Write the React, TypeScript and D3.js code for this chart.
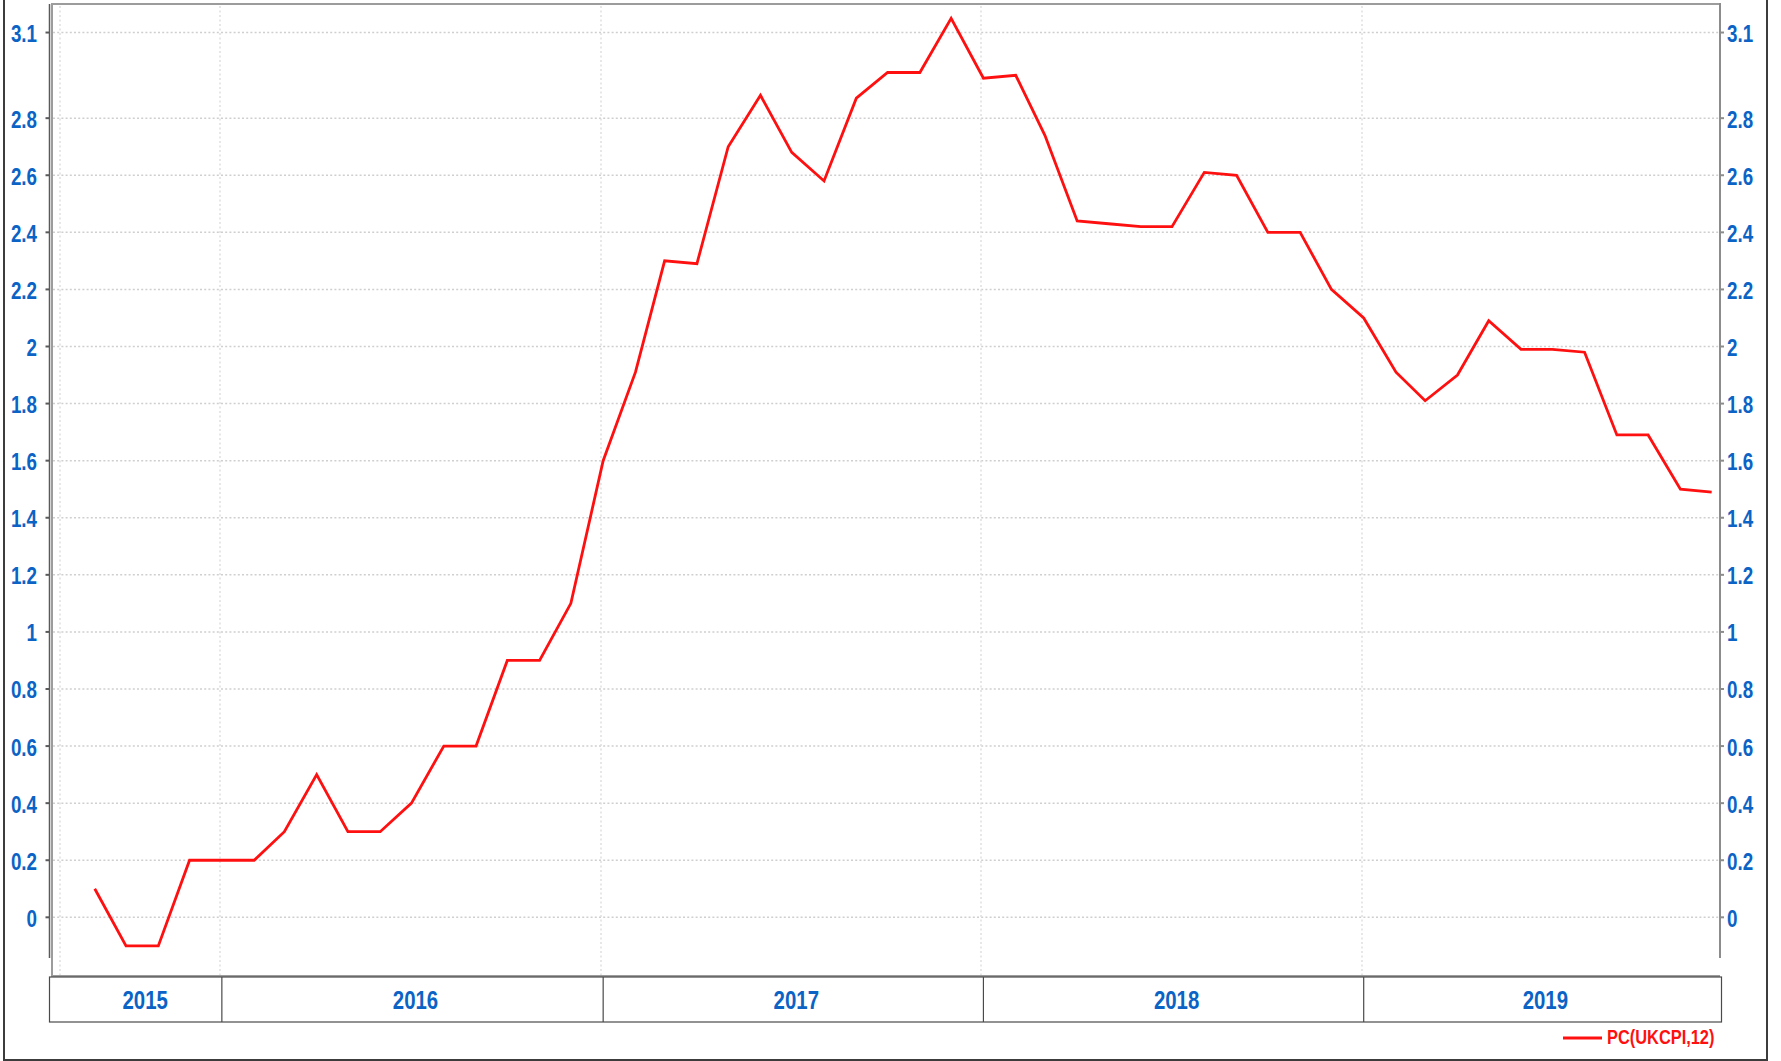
import React, { useEffect, useRef } from 'react';
import * as d3 from 'd3';

// monthly UK CPI yoy, Sep 2015 .. Dec 2019
const startMonth = new Date(2015, 8, 1);
const cpiValues = [
  0.1, -0.1, -0.1, 0.2,
  0.2, 0.2, 0.3, 0.5, 0.3, 0.3, 0.4, 0.6, 0.6, 0.9, 0.9, 1.1,
  1.6, 1.91, 2.3, 2.29, 2.7, 2.88, 2.68, 2.58, 2.87, 2.96, 2.96, 3.15,
  2.94, 2.95, 2.74, 2.44, 2.43, 2.42, 2.42, 2.61, 2.6, 2.4, 2.4, 2.2,
  2.1, 1.91, 1.81, 1.9, 2.09, 1.99, 1.99, 1.98, 1.69, 1.69, 1.5, 1.49
];
const yTicks = [0, 0.2, 0.4, 0.6, 0.8, 1, 1.2, 1.4, 1.6, 1.8, 2, 2.2, 2.4, 2.6, 2.8, 3.1];
const years = [2015, 2016, 2017, 2018, 2019];
const gridDates = [new Date(2015, 7, 1), new Date(2016, 0, 1), new Date(2017, 0, 1), new Date(2018, 0, 1), new Date(2019, 0, 1)];
const seriesName = 'PC(UKCPI,12)';

const BLUE = '#0b63c5';
const FONT = '"Liberation Sans", Arial, sans-serif';
const SQUEEZE = 0.8; // narrow look of the original font

const App = () => {
  const svgRef = useRef(null);

  useEffect(() => {
    const svg = d3.select(svgRef.current);
    svg.selectAll('*').remove();

    const left = 51, right = 1720, top = 4, bottom = 975;

    const x = d3.scaleTime()
      .domain([new Date(2015, 6, 21), new Date(2019, 11, 9)])
      .range([left, right]);
    const y = d3.scaleLinear()
      .domain([-0.2, 3.2])
      .range([974.4, 4]);

    const data = cpiValues.map((v, i) => ({
      date: new Date(startMonth.getFullYear(), startMonth.getMonth() + i, 1),
      value: v
    }));

    // outer frame
    svg.append('path')
      .attr('d', `M4,-2 V1060 H1767 V-2`)
      .attr('fill', 'none')
      .attr('stroke', '#3c3c3c')
      .attr('stroke-width', 2);

    // grid
    svg.append('g')
      .selectAll('line')
      .data(yTicks)
      .enter()
      .append('line')
      .attr('x1', left + 2)
      .attr('x2', right)
      .attr('y1', d => y(d))
      .attr('y2', d => y(d))
      .attr('stroke', '#cfcfcf')
      .attr('stroke-width', 1.5)
      .attr('stroke-dasharray', '2,2.2');

    svg.append('g')
      .selectAll('line')
      .data(gridDates)
      .enter()
      .append('line')
      .attr('x1', d => Math.round(x(d)) - 2)
      .attr('x2', d => Math.round(x(d)) - 2)
      .attr('y1', top + 2)
      .attr('y2', bottom)
      .attr('stroke', '#e0e0e0')
      .attr('stroke-width', 1.5)
      .attr('stroke-dasharray', '2,2.5');

    // plot frame
    svg.append('path')
      .attr('d', `M${right},${top} H${left + 1} V${bottom + 1} H${right}`)
      .attr('fill', 'none')
      .attr('stroke', '#9c9c9c')
      .attr('stroke-width', 2);

    // y axes
    svg.append('line')
      .attr('x1', 49.5).attr('x2', 49.5)
      .attr('y1', top).attr('y2', 958)
      .attr('stroke', '#5a5a5a')
      .attr('stroke-width', 1.5);
    svg.append('line')
      .attr('x1', right).attr('x2', right)
      .attr('y1', top - 1).attr('y2', 958)
      .attr('stroke', '#8c8c8c')
      .attr('stroke-width', 2);

    const fmt = (d) => String(+d.toFixed(1));
    const place = (px, py) => `translate(${px},${py}) scale(${SQUEEZE},1)`;

    const leftAxis = svg.append('g');
    leftAxis.selectAll('line')
      .data(yTicks)
      .enter()
      .append('line')
      .attr('x1', 45.5).attr('x2', 49.5)
      .attr('y1', d => y(d)).attr('y2', d => y(d))
      .attr('stroke', '#5a5a5a')
      .attr('stroke-width', 2);
    leftAxis.selectAll('text')
      .data(yTicks)
      .enter()
      .append('text')
      .attr('transform', d => place(37, y(d) + 9.5))
      .attr('text-anchor', 'end')
      .style('font-family', FONT)
      .style('font-weight', 'bold')
      .style('font-size', '23.5px')
      .style('fill', BLUE)
      .text(fmt);

    const rightAxis = svg.append('g');
    rightAxis.selectAll('line')
      .data(yTicks)
      .enter()
      .append('line')
      .attr('x1', right).attr('x2', right + 4)
      .attr('y1', d => y(d)).attr('y2', d => y(d))
      .attr('stroke', '#8c8c8c')
      .attr('stroke-width', 2);
    rightAxis.selectAll('text')
      .data(yTicks)
      .enter()
      .append('text')
      .attr('transform', d => place(1727, y(d) + 9.5))
      .attr('text-anchor', 'start')
      .style('font-family', FONT)
      .style('font-weight', 'bold')
      .style('font-size', '23.5px')
      .style('fill', BLUE)
      .text(fmt);

    // year boxes along the bottom
    const boxTop = 977, boxBottom = 1022;
    const xMin = x.range()[0] - 1, xMax = x.range()[1] + 1;
    const boxes = years.map(yr => {
      const x0 = Math.max(xMin, x(new Date(yr, 0, 1)));
      const x1 = Math.min(xMax, x(new Date(yr + 1, 0, 1)));
      const labelStart = Math.max(x(gridDates[0]), x(new Date(yr, 0, 1)));
      return { yr, x0, x1, cx: (labelStart + x1) / 2 + 3 };
    });
    const xAxis = svg.append('g');
    xAxis.append('rect')
      .attr('x', xMin - 0.5)
      .attr('y', boxTop)
      .attr('width', xMax - xMin + 1)
      .attr('height', boxBottom - boxTop)
      .attr('fill', 'none')
      .attr('stroke', '#4a4a4a')
      .attr('stroke-width', 1.2);
    xAxis.selectAll('line')
      .data(boxes.slice(1))
      .enter()
      .append('line')
      .attr('x1', d => d.x0).attr('x2', d => d.x0)
      .attr('y1', boxTop).attr('y2', boxBottom)
      .attr('stroke', '#4a4a4a')
      .attr('stroke-width', 1.2);
    xAxis.selectAll('text')
      .data(boxes)
      .enter()
      .append('text')
      .attr('transform', d => place(d.cx, 1008.5))
      .attr('text-anchor', 'middle')
      .style('font-family', FONT)
      .style('font-weight', 'bold')
      .style('font-size', '25.5px')
      .style('fill', BLUE)
      .text(d => d.yr);

    // series
    const line = d3.line()
      .x(d => x(d.date))
      .y(d => y(d.value));
    svg.append('path')
      .datum(data)
      .attr('d', line)
      .attr('fill', 'none')
      .attr('stroke', '#ff1010')
      .attr('stroke-width', 2.8)
      .attr('stroke-linejoin', 'miter');

    // legend
    svg.append('line')
      .attr('x1', 1563).attr('x2', 1602)
      .attr('y1', 1038).attr('y2', 1038)
      .attr('stroke', '#ff1010')
      .attr('stroke-width', 2.8);
    svg.append('text')
      .attr('transform', place(1607, 1043.5))
      .style('font-family', FONT)
      .style('font-weight', 'bold')
      .style('font-size', '20.5px')
      .style('fill', '#ff1010')
      .text(seriesName);
  }, []);

  return (
    <svg
      ref={svgRef}
      width={1781}
      height={1061}
      style={{ position: 'absolute', left: 0, top: 0, background: '#fff' }}
    />
  );
};

export default App;
